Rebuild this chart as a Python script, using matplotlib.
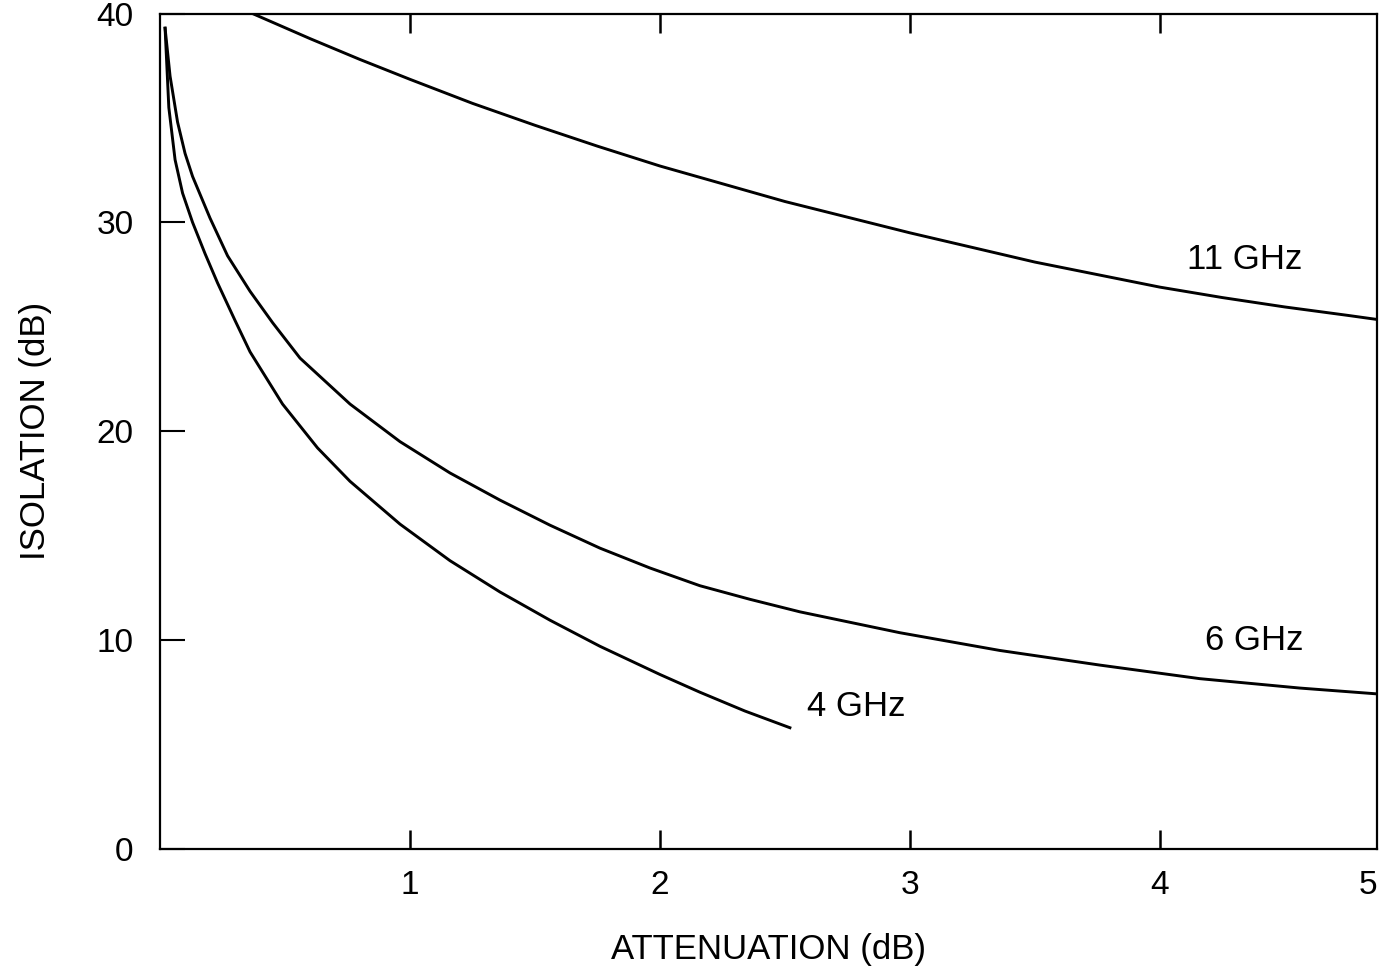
import matplotlib
matplotlib.use("Agg")
import matplotlib.pyplot as plt

# attenuation (dB) vs isolation (dB)
x_4ghz = [0.02, 0.035, 0.06, 0.09, 0.13, 0.18, 0.23, 0.3, 0.36, 0.49, 0.63, 0.76, 0.96,
          1.16, 1.36, 1.56, 1.76, 2.0, 2.16, 2.34, 2.52]
y_4ghz = [39.3, 35.5, 33.0, 31.4, 30.0, 28.5, 27.1, 25.3, 23.8, 21.3, 19.2, 17.6, 15.55,
          13.8, 12.3, 10.95, 9.7, 8.35, 7.5, 6.6, 5.8]

x_6ghz = [0.02, 0.04, 0.07, 0.1, 0.13, 0.2, 0.27, 0.36, 0.45, 0.56, 0.76, 0.96, 1.16,
          1.36, 1.56, 1.76, 1.96, 2.16, 2.36, 2.56, 2.96, 3.36, 3.76, 4.16, 4.56, 4.87]
y_6ghz = [39.3, 37.0, 34.8, 33.3, 32.2, 30.2, 28.4, 26.7, 25.2, 23.5, 21.3, 19.5, 18.0,
          16.7, 15.5, 14.4, 13.45, 12.6, 11.95, 11.35, 10.35, 9.5, 8.8, 8.15, 7.7, 7.42]

x_11ghz = [0.37, 0.6, 0.8, 1.0, 1.25, 1.5, 1.75, 2.0, 2.25, 2.5, 2.75, 3.0, 3.25,
           3.5, 3.75, 4.0, 4.25, 4.5, 4.75, 4.87]
y_11ghz = [40.0, 38.8, 37.8, 36.85, 35.7, 34.65, 33.65, 32.7, 31.85, 31.0, 30.25, 29.5, 28.8,
           28.1, 27.5, 26.9, 26.4, 25.95, 25.55, 25.35]

x_ticks = [1, 2, 3, 4]
y_ticks = [0, 10, 20, 30, 40]
x_max = 4.87

plt.rcParams['font.family'] = ['Liberation Sans', 'DejaVu Sans']

fig = plt.figure(figsize=(13.8, 9.69), dpi=100)
ax = fig.add_axes([0.116, 0.124, 0.882, 0.862])

ax.plot(x_4ghz, y_4ghz, color='black', lw=2.1)
ax.plot(x_6ghz, y_6ghz, color='black', lw=2.1)
ax.plot(x_11ghz, y_11ghz, color='black', lw=2.1)

ax.set_xlim(0, x_max)
ax.set_ylim(0, 40)

for s in ax.spines.values():
    s.set_linewidth(1.6)

# x ticks on bottom and top, pointing inward; the right edge is labelled 5
ax.set_xticks(x_ticks + [x_max])
ax.set_xticklabels(['1', '2', '3', '4', '5'])
ax.tick_params(axis='x', direction='in', length=14, width=1.8, top=True,
               labelsize=24, pad=15)
ax.get_xticklabels()[-1].set_ha('right')
ax.xaxis.get_major_ticks()[-1].tick1line.set_visible(False)
ax.xaxis.get_major_ticks()[-1].tick2line.set_visible(False)

ax.set_yticks(y_ticks)
ax.tick_params(axis='y', direction='in', length=18, width=1.5,
               labelsize=24, pad=19)

ax.set_xlabel('ATTENUATION (dB)', fontsize=25, labelpad=23)
ax.set_ylabel('ISOLATION (dB)', fontsize=25, labelpad=32)

ax.text(4.11, 28.2, '11 GHz', fontsize=25, ha='left', va='center')
ax.text(4.18, 9.96, '6 GHz', fontsize=25, ha='left', va='center')
ax.text(2.59, 6.8, '4 GHz', fontsize=25, ha='left', va='center')

fig.savefig('out.png', dpi=100)
